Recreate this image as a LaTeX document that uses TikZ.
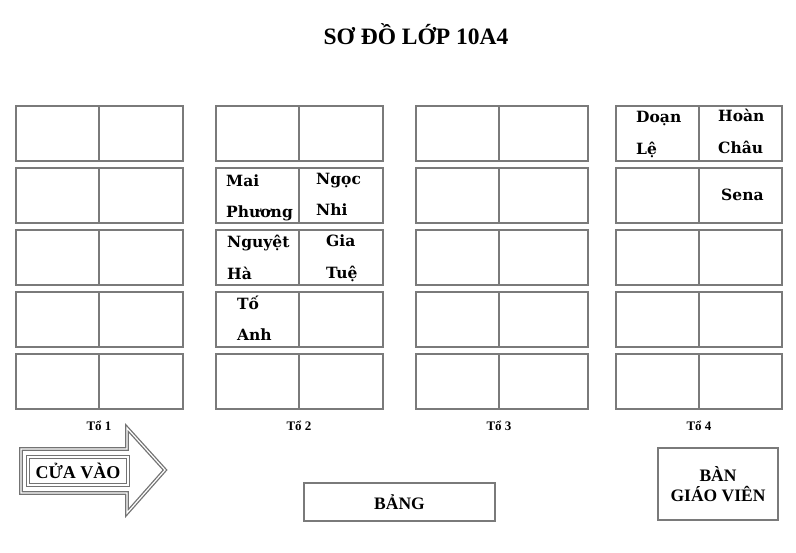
\documentclass[tikz,border=0pt]{standalone}
\usepackage{fontspec}
\setmainfont{Liberation Serif}
\newfontfamily\tenfont{DejaVu Serif}
\usetikzlibrary{positioning}

\newcommand{\haidong}[2]{\begin{tabular}[t]{@{}l@{}}#1\\[14pt]#2\end{tabular}}

\begin{document}
\begin{tikzpicture}[x=1pt,y=-1pt,
	ban/.style={draw=black!52,line width=2.8pt,rectangle,inner sep=0pt,outer sep=0pt,minimum height=55pt,anchor=north west},
	ten/.style={font=\tenfont\bfseries\fontsize{15.5}{16}\selectfont,anchor=base west,inner sep=0pt},
	to/.style={font=\bfseries\fontsize{13}{14}\selectfont,anchor=base},
	khung/.style={draw=black!52,line width=2.8pt,rectangle,inner sep=0pt,font=\bfseries\fontsize{17.5}{20}\selectfont,align=center},
	muiten/.style={draw=black!55,double=white,double distance=1.2pt,line width=1.3pt}]
	\useasboundingbox (0,0) rectangle (796,553);
	\node[font=\bfseries\fontsize{23.5}{26}\selectfont,anchor=base] (tieude) at (416,45) {SƠ ĐỒ LỚP 10A4};
	\coordinate (goc) at (0,431);
	\foreach \g/\x/\w in {1/16/84,2/216/84,3/416/89,4/616/83} {
		\foreach \r in {1,...,5} {
			\node[ban,minimum width=83pt] (t\g-\r-a) at (\x,{106+(\r-1)*62}) {};
			\node[ban,minimum width=\w pt] (t\g-\r-b) at (t\g-\r-a.north east) {};
		}
		\node[to] (to\g) at (t\g-5-a.south east |- goc) {Tổ \g};
	}
	% ten hoc sinh
	\node[ten] (doan) at (636,123) {\haidong{Doạn}{Lệ}};
	\node[ten] (hoan) at (718,122) {\haidong{Hoàn}{Châu}};
	\node[ten] (sena) at (721,201) {Sena};
	\node[ten] (mai) at (226,187) {\haidong{Mai}{Phương}};
	\node[ten] (ngoc) at (316,185) {\haidong{Ngọc}{Nhi}};
	\node[ten] (nguyet) at (227,248) {\haidong{Nguyệt}{Hà}};
	\node[ten] (gia) at (326,247) {\haidong{Gia}{Tuệ}};
	\node[ten] (toanh) at (237,310) {\haidong{Tố}{Anh}};
	% cua vao, bang, ban giao vien
	\draw[muiten] (21,449) -- (127,449) -- (127,428) -- (165,470) -- (127,513) -- (127,493) -- (21,493) -- cycle;
	\node[muiten,rectangle,minimum width=100pt,minimum height=28pt,font=\bfseries\fontsize{18}{20}\selectfont] (cuavao) at (78,471) {CỬA VÀO};
	\node[khung,minimum width=191pt,minimum height=38pt] (bang) at (399.5,502) {BẢNG};
	\node[khung,minimum width=120pt,minimum height=72pt] (gv) at (718,484) {BÀN\\GIÁO VIÊN};
\end{tikzpicture}
\end{document}
